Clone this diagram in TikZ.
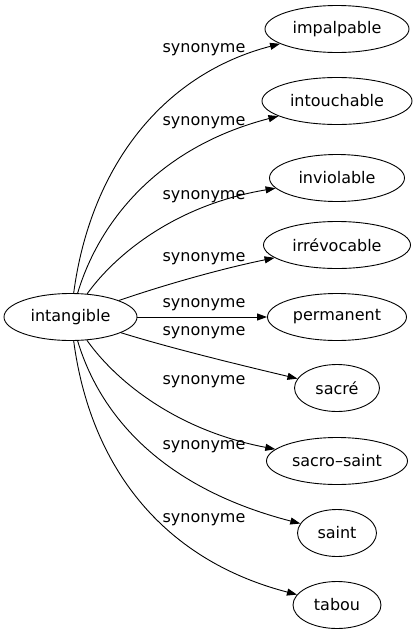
\documentclass[tikz,border=0pt]{standalone}
\usepackage{fontspec}
\setmainfont{DejaVu Sans}
\usetikzlibrary{arrows.meta,shapes.geometric}
\begin{document}
\begin{tikzpicture}[x=1pt,y=-1pt,
  wnode/.style={draw,ellipse,line width=0.9pt,inner sep=0pt,minimum height=47pt,font=\fontsize{16}{19}\selectfont},
  edgeline/.style={draw,line width=0.9pt,-{Triangle[length=10pt,width=7pt]}},
  lbl/.style={font=\fontsize{16}{19}\selectfont,inner sep=0pt}]
\useasboundingbox (0,0) rectangle (417,635);
\node[wnode,minimum width=133pt] (i) at (70.5,317) {intangible};
\node[wnode,minimum width=144pt] (n1) at (337,29) {impalpable};
\node[wnode,minimum width=150pt] (n2) at (337,101) {intouchable};
\node[wnode,minimum width=135pt] (n3) at (337,178) {inviolable};
\node[wnode,minimum width=147pt] (n4) at (337,245) {irrévocable};
\node[wnode,minimum width=139pt] (n5) at (337,317) {permanent};
\node[wnode,minimum width=85pt] (n6) at (337,388) {sacré};
\node[wnode,minimum width=141pt] (n7) at (337,461) {sacro–saint};
\node[wnode,minimum width=79pt] (n8) at (337,533) {saint};
\node[wnode,minimum width=88pt] (n9) at (337,605) {tabou};
\draw[edgeline] (i) .. controls (90,170) and (160,75) .. (n1);
\draw[edgeline] (i) .. controls (98,225) and (155,148) .. (n2);
\draw[edgeline] (i) .. controls (115,255) and (175,205) .. (n3);
\draw[edgeline] (i) .. controls (170,283) and (225,268) .. (n4);
\draw[edgeline] (i) -- (n5);
\draw[edgeline] (i) .. controls (170,348) and (240,365) .. (n6);
\draw[edgeline] (i) .. controls (115,380) and (175,430) .. (n7);
\draw[edgeline] (i) .. controls (98,409) and (155,486) .. (n8);
\draw[edgeline] (i) .. controls (90,464) and (160,559) .. (n9);
\node[lbl] (l1) at (204,50) {synonyme};
\node[lbl] (l2) at (204,123) {synonyme};
\node[lbl] (l3) at (204,197) {synonyme};
\node[lbl] (l4) at (204,259) {synonyme};
\node[lbl] (l5) at (204,305) {synonyme};
\node[lbl] (l6) at (204,333) {synonyme};
\node[lbl] (l7) at (204,382) {synonyme};
\node[lbl] (l8) at (204,447) {synonyme};
\node[lbl] (l9) at (204,520) {synonyme};
\end{tikzpicture}
\end{document}
